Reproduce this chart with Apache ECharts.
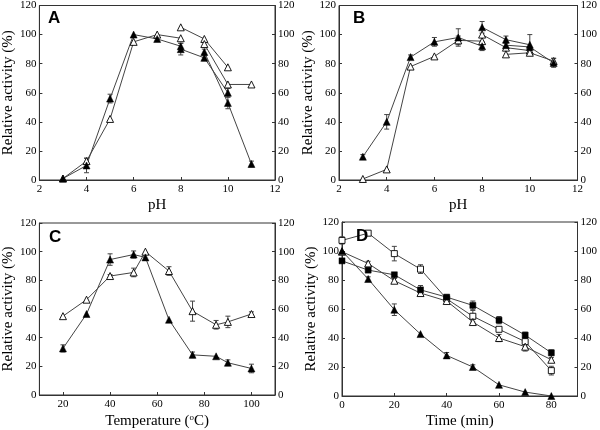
<!DOCTYPE html>
<html>
<head>
<meta charset="utf-8">
<script src="https://cdn.jsdelivr.net/npm/echarts@6/dist/echarts.min.js"></script>
<style>html,body{margin:0;padding:0;background:#fff}#c{width:600px;height:430px}</style>
</head>
<body>
<div id="c"></div>
<script>
// ---- Data: [x, y, error] ----
// Panel A (pH, filled = black triangles, open = white triangles)
const A_filled1 = [[3,1,0],[4,10,5],[5,56,3],[6,100,0],[7,97,1.5],[8,92,2]];
const A_filled2 = [[8,90,4],[9,84,2],[10,60,3]];
const A_filled3 = [[9,88,2],[10,53,4],[11,11,2]];
const A_open1 = [[3,1,0],[4,13,2],[5,42,0],[6,95,0],[7,100,0],[8,97.5,0]];
const A_open2 = [[8,105,0],[9,97,0],[10,77.5,0]];
const A_open3 = [[9,93.5,0],[10,65.7,0],[11,65.7,0]];
// Panel B
const B_filled1 = [[3,16,1.5],[4,40,5],[5,84.5,1.5],[6,95,3],[7,98,6],[8,92,3]];
const B_filled2 = [[8,105,4],[9,96.5,2.5],[10,93,7]];
const B_filled3 = [[9,92.7,0],[10,91.5,0],[11,80.5,3]];
const B_open1 = [[3,0.7,0],[4,7.3,0],[5,78,0],[6,85,0],[7,96,3],[8,95.5,0]];
const B_open2 = [[8,100,0],[9,91,0],[10,89,0]];
const B_open3 = [[9,86.4,0],[10,87.5,0],[11,81.8,2]];
// Panel C (temperature)
const C_filled = [[20,32.5,2.5],[30,56.5,0],[40,94.5,4],[50,98,2.5],[55,96,0],[65,52.5,0],[75,28,2],[85,27,0],[90,22.5,2],[100,18.5,3]];
const C_open = [[20,55,0],[30,66.5,0],[40,83,1],[50,85.5,3],[55,100,0],[65,86.5,3],[75,58.5,7],[85,49,3],[90,51,4],[100,56.5,1.5]];
// Panel D (time)
const D_openSquare = [[0,107.3,2.5],[10,112.3,1],[20,98.2,5],[30,87.5,3],[40,67,1],[50,55,4],[60,46,1],[70,37.5,3],[80,17.5,3]];
const D_filledSquare = [[0,93.2,0],[10,86.8,0],[20,83.6,0],[30,73.2,3],[40,68.2,0],[50,62.5,3],[60,52.3,2.5],[70,42,2],[80,29.8,2]];
const D_openTriangle = [[0,99.5,0],[10,91.4,1.5],[20,79.5,1.5],[30,71,2],[40,65.5,1.5],[50,51,2],[60,40,2.5],[70,34,3],[80,25,1.5]];
const D_filledTriangle = [[0,100,0],[10,80.7,1.5],[20,59.5,4],[30,42.7,0],[40,28,2],[50,20,1.5],[60,7.7,0],[70,2.7,0],[80,0,0]];

const yTicks = [0,20,40,60,80,100,120];
const panelLetters = ['A','B','C','D'];

// ---- styling ----
const serif = '"Liberation Serif", "Times New Roman", serif';
const axisCol = '#333';
const lineCol = '#444';

const grids = [
  {left:34, top:4, width:241, height:176},
  {left:339, top:4, width:242, height:176},
  {left:35, top:223, width:240, height:175},
  {left:342, top:222, width:241, height:176}
];

const xCfg = [
  {min:2, max:12, interval:2, name:'pH'},
  {min:2, max:12, interval:2, name:'pH'},
  {min:10, max:110, ticks:[20,40,60,80,100], name:'Temperature ({sup|o}C)'},
  {min:0, max:90, ticks:[0,20,40,60,80], name:'Time (min)'}
];

const xAxes = [], yAxes = [];
xCfg.forEach((c,i)=>{
  const ax = {
    type:'value', gridIndex:i, min:c.min, max:c.max,
    name:c.name, nameLocation:'middle', nameGap:18,
    nameTextStyle:{fontFamily:serif, fontSize:15, color:'#000',
      rich:{sup:{fontFamily:serif, fontSize:9, verticalAlign:'top', padding:[0,0,8,0], color:'#000'}}},
    axisLine:{show:true, onZero:false, lineStyle:{color:axisCol, width:1}},
    axisTick:{show:true, inside:true, length:3, lineStyle:{color:axisCol}},
    axisLabel:{fontFamily:serif, fontSize:11, color:'#000', margin:4},
    splitLine:{show:false}
  };
  if (c.interval) { ax.interval = c.interval; }
  if (c.ticks) {
    ax.axisTick.customValues = c.ticks;
    ax.axisLabel.customValues = c.ticks;
  }
  xAxes.push(ax);
  const yBase = {
    type:'value', gridIndex:i, min:0, max:120, interval:20,
    axisLine:{show:true, lineStyle:{color:axisCol, width:1}},
    axisTick:{show:true, inside:true, length:3, lineStyle:{color:axisCol}},
    axisLabel:{fontFamily:serif, fontSize:11, color:'#000', margin:3},
    splitLine:{show:false}
  };
  yAxes.push(Object.assign({}, yBase, {position:'left', name:'Relative activity (%)', nameLocation:'middle', nameGap:20,
    nameTextStyle:{fontFamily:serif, fontSize:15, color:'#000'}}));
  yAxes.push(Object.assign({}, yBase, {position:'right'}));
});

const series = [];
function errSeries(data, gi) {
  return {
    type:'custom', xAxisIndex:gi, yAxisIndex:gi*2, z:1, silent:true,
    data: data.filter(d=>d[2]>0),
    renderItem:function(params, api){
      const x = api.value(0), y = api.value(1), e = api.value(2);
      const top = api.coord([x, y+e]);
      const bot = api.coord([x, y-e]);
      const w = 2.5;
      const st = {stroke:'#444', lineWidth:1};
      return {type:'group', children:[
        {type:'line', shape:{x1:top[0], y1:top[1], x2:bot[0], y2:bot[1]}, style:st},
        {type:'line', shape:{x1:top[0]-w, y1:top[1], x2:top[0]+w, y2:top[1]}, style:st},
        {type:'line', shape:{x1:bot[0]-w, y1:bot[1], x2:bot[0]+w, y2:bot[1]}, style:st}
      ]};
    }
  };
}
function lineSeries(data, gi, symbol, filled) {
  return {
    type:'line', xAxisIndex:gi, yAxisIndex:gi*2, z:3,
    data: data.map(d=>[d[0], d[1]]),
    symbol: symbol, symbolSize: symbol==='rect' ? 6 : 7, showAllSymbol:true,
    lineStyle:{color:lineCol, width:1},
    itemStyle: filled ? {color:'#000', borderColor:'#000', borderWidth:0.5} : {color:'#fff', borderColor:'#000', borderWidth:0.9},
    emphasis:{disabled:true}
  };
}
function add(data, gi, symbol, filled) {
  series.push(errSeries(data, gi));
  series.push(lineSeries(data, gi, symbol, filled));
}
add(A_open1,0,'triangle',false); add(A_open2,0,'triangle',false); add(A_open3,0,'triangle',false);
add(A_filled1,0,'triangle',true); add(A_filled2,0,'triangle',true); add(A_filled3,0,'triangle',true);
add(B_open1,1,'triangle',false); add(B_open2,1,'triangle',false); add(B_open3,1,'triangle',false);
add(B_filled1,1,'triangle',true); add(B_filled2,1,'triangle',true); add(B_filled3,1,'triangle',true);
add(C_open,2,'triangle',false); add(C_filled,2,'triangle',true);
add(D_openSquare,3,'rect',false); add(D_openTriangle,3,'triangle',false);
add(D_filledSquare,3,'rect',true); add(D_filledTriangle,3,'triangle',true);

const titles = grids.map((g,i)=>({
  text: panelLetters[i], left: g.left + 9, top: g.top + 1,
  textStyle:{fontFamily:'"Liberation Sans", Arial, sans-serif', fontWeight:'bold', fontSize:17, color:'#000'}
}));

const chart = echarts.init(document.getElementById('c'), null, {renderer:'canvas'});
chart.setOption({
  animation:false,
  backgroundColor:'#fff',
  title: titles,
  grid: grids.map(g=>Object.assign({show:true, borderColor:axisCol, borderWidth:1, backgroundColor:'transparent'}, g)),
  xAxis: xAxes,
  yAxis: yAxes,
  series: series
});
</script>
</body>
</html>
